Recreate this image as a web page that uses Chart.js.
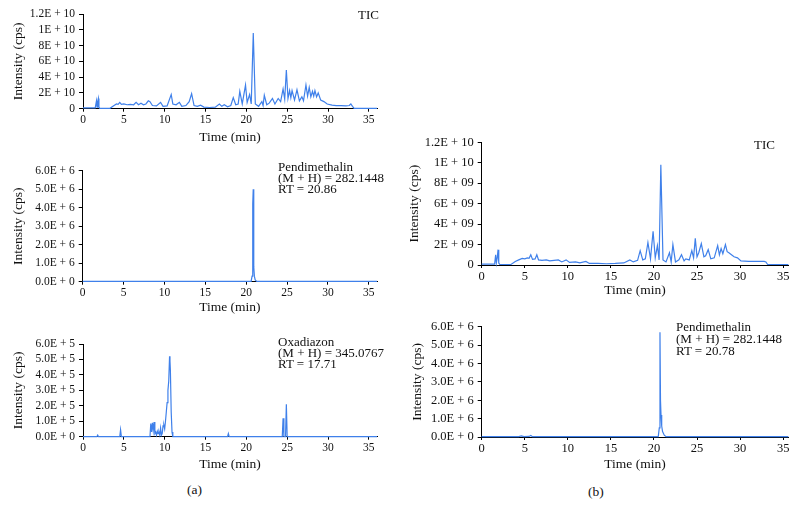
<!DOCTYPE html>
<html>
<head>
<meta charset="utf-8">
<script src="https://cdn.jsdelivr.net/npm/chart.js@4.4.1/dist/chart.umd.min.js"></script>
<style>
body{margin:0;background:#fff;}
#fig{position:relative;width:797px;height:516px;font-family:"Liberation Serif",serif;color:#111;overflow:hidden;}
#fig canvas{position:absolute;}
.note{position:absolute;font-size:13px;line-height:11px;white-space:nowrap;}
.cap{position:absolute;font-size:13.5px;}
</style>
</head>
<body>
<div id="fig">
  <canvas id="a1" width="390" height="150" style="left:0;top:0"></canvas>
  <canvas id="a2" width="390" height="168" style="left:0;top:150px"></canvas>
  <canvas id="a3" width="390" height="160" style="left:0;top:320px"></canvas>
  <canvas id="b1" width="397" height="180" style="left:400px;top:120px"></canvas>
  <canvas id="b2" width="397" height="170" style="left:400px;top:305px"></canvas>

  <div class="note" style="left:358px;top:9px">TIC</div>
  <div class="note" style="left:278px;top:161px">Pendimethalin<br>(M + H) = 282.1448<br>RT = 20.86</div>
  <div class="note" style="left:278px;top:336px">Oxadiazon<br>(M + H) = 345.0767<br>RT = 17.71</div>
  <div class="note" style="left:754px;top:139px">TIC</div>
  <div class="note" style="left:676px;top:321px;line-height:12px">Pendimethalin<br>(M + H) = 282.1448<br>RT = 20.78</div>
  <div class="cap" style="left:187px;top:482px">(a)</div>
  <div class="cap" style="left:588px;top:484px">(b)</div>
</div>
<script>
// ---------- data ----------
const xTicks = [0, 5, 10, 15, 20, 25, 30, 35];

const ticVals = [0, 2, 4, 6, 8, 10, 12];
const ticLblA = ['0', '2E + 10', '4E + 10', '6E + 10', '8E + 10', '1E + 10', '1.2E + 10'];
const ticLblB = ['0', '2E + 09', '4E + 09', '6E + 09', '8E + 09', '1E + 10', '1.2E + 10'];
const sixVals = [0, 1, 2, 3, 4, 5, 6];
const pendLbl = ['0.0E + 0', '1.0E + 6', '2.0E + 6', '3.0E + 6', '4.0E + 6', '5.0E + 6', '6.0E + 6'];
const oxaLbl = ['0.0E + 0', '1.0E + 5', '2.0E + 5', '3.0E + 5', '4.0E + 5', '5.0E + 5', '6.0E + 5'];

// (a) TIC, intensity in 1E9
const ticA_t = [0, 1.5, 1.65, 1.72, 1.8, 1.88, 1.95, 2.05, 3.3, 3.8,
  4.1, 4.3, 4.5, 4.7, 5.0, 5.4, 5.8, 6.2, 6.5, 6.8,
  7.1, 7.4, 7.7, 8.0, 8.2, 8.5, 9.0, 9.5, 9.8, 10.3,
  10.8, 11.0, 11.4, 11.8, 12.1, 12.6, 13.0, 13.3, 13.6, 14.0,
  14.4, 14.8, 15.5, 16.2, 16.7, 17.0, 17.3, 17.7, 18.1, 18.4,
  18.7, 19.0, 19.2, 19.5, 19.9, 20.1, 20.4, 20.6, 20.85, 21.1,
  21.5, 21.9, 22.05, 22.2, 22.5, 22.8, 23.2, 23.5, 23.9, 24.2,
  24.5, 24.7, 24.9, 25.1, 25.3, 25.45, 25.6, 25.9, 26.2, 26.5,
  26.8, 27.0, 27.3, 27.5, 27.7, 27.9, 28.1, 28.25, 28.4, 28.6,
  28.8, 29.1, 29.5, 29.9, 30.5, 31.0, 31.6, 32.2, 32.6, 32.8,
  33.0, 33.2, 33.5, 36];
const ticA_v = [0.1, 0.1, 1.0, 0.2, 0.9, 1.3, 0.2, 0.05, 0.05, 0.4,
  0.6, 0.55, 0.8, 0.55, 0.6, 0.5, 0.55, 0.5, 0.8, 0.5,
  0.7, 0.5, 0.6, 1.0, 0.9, 0.4, 0.35, 0.8, 0.3, 0.35,
  1.8, 0.6, 0.5, 0.8, 0.3, 0.4, 0.9, 1.9, 0.4, 0.3,
  0.45, 0.2, 0.15, 0.2, 0.6, 0.3, 0.5, 0.25, 0.4, 1.4,
  0.5, 0.6, 2.2, 0.6, 3.0, 0.8, 1.8, 0.6, 9.6, 0.6,
  0.3, 0.9, 0.4, 1.7, 0.5, 0.7, 1.3, 0.6, 1.3, 0.9,
  2.5, 1.2, 4.9, 1.3, 2.3, 1.4, 2.3, 1.1, 2.4, 1.0,
  1.5, 1.0, 3.0, 1.6, 2.7, 1.5, 2.2, 1.6, 2.3, 1.5,
  2.0, 1.1, 0.9, 0.6, 0.45, 0.4, 0.4, 0.35, 0.4, 0.6,
  0.3, 0.05, 0.05, 0.05];

// (a) Pendimethalin, 1E6
const pendA_t = [0, 20.6, 20.72, 20.8, 20.86, 20.9, 20.95, 21.0, 21.1, 21.3, 36];
const pendA_v = [0.02, 0.02, 0.3, 4.2, 5.0, 2.2, 0.8, 0.3, 0.1, 0.02, 0.02];

// (a) Oxadiazon, 1E5
const oxa_t = [0, 1.7, 1.8, 1.9, 4.5, 4.6, 4.7, 8.2, 8.3, 8.4,
  8.5, 8.6, 8.7, 8.8, 8.9, 9.0, 9.1, 9.2, 9.3, 9.4,
  9.5, 9.6, 9.7, 9.8, 9.9, 10.0, 10.1, 10.2, 10.3, 10.4,
  10.5, 10.6, 10.65, 10.7, 10.8, 10.9, 11.0, 17.7, 17.8, 17.9,
  24.4, 24.5, 24.6, 24.8, 24.9, 25.0, 36];
const oxa_v = [0, 0, 0.1, 0, 0, 0.45, 0, 0, 0.85, 0.3,
  0.9, 0.4, 0.95, 0.2, 0.3, 0.1, 0.35, 0.2, 0.3, 0.1,
  0.55, 0.1, 0.2, 0.7, 0.75, 0.5, 1.0, 1.6, 2.2, 3.0,
  3.6, 5.2, 4.9, 4.3, 1.6, 0.3, 0, 0, 0.2, 0,
  0, 1.2, 0, 0, 2.1, 0, 0];

// (b) TIC, 1E9
const ticB_t = [0, 1.5, 1.62, 1.7, 1.8, 1.9, 1.98, 2.1, 3.4, 3.9,
  4.3, 4.7, 5.0, 5.3, 5.5, 5.7, 5.9, 6.2, 6.4, 6.6,
  7.0, 7.5, 7.9, 8.4, 8.9, 9.3, 9.8, 10.2, 10.9, 11.4,
  12.1, 12.5, 13.5, 14.5, 15.5, 16.5, 17.2, 17.6, 18.1, 18.4,
  18.7, 19.0, 19.3, 19.6, 19.9, 20.15, 20.4, 20.6, 20.8, 21.05,
  21.4, 21.8, 22.0, 22.2, 22.5, 22.9, 23.2, 23.5, 23.7, 24.1,
  24.4, 24.6, 24.8, 25.0, 25.2, 25.5, 25.8, 26.0, 26.3, 26.6,
  27.0, 27.4, 27.6, 27.8, 28.0, 28.3, 28.5, 28.7, 29.0, 29.3,
  29.7, 30.1, 31.0, 32.0, 32.8, 33.0, 33.2, 35.6];
const ticB_v = [0.08, 0.08, 1.0, 0.2, 0.7, 1.5, 0.2, 0.05, 0.05, 0.35,
  0.5, 0.65, 0.6, 0.7, 0.65, 1.0, 0.55, 0.6, 1.0, 0.5,
  0.45, 0.5, 0.4, 0.45, 0.5, 0.3, 0.5, 0.25, 0.3, 0.2,
  0.35, 0.15, 0.15, 0.12, 0.15, 0.2, 0.5, 0.3, 0.45, 1.4,
  0.5, 0.6, 2.2, 0.6, 3.3, 0.7, 1.9, 0.5, 9.8, 0.5,
  0.3, 1.2, 0.3, 2.0, 0.3, 0.5, 1.0, 0.4, 0.6, 0.5,
  1.4, 0.7, 2.6, 0.8, 1.2, 2.1, 0.8, 0.9, 1.5, 0.6,
  0.7, 1.9, 1.0, 1.6, 1.1, 2.0, 1.3, 1.2, 1.0, 0.8,
  0.7, 0.4, 0.35, 0.35, 0.35, 0.3, 0.05, 0.05];

// (b) Pendimethalin, 1E6
const pendB_t = [0, 4.3, 4.6, 4.9, 5.5, 5.7, 5.9, 20.5, 20.62, 20.7, 20.76, 20.82, 20.9, 21.0, 21.2, 21.4, 35.6];
const pendB_v = [0.02, 0.02, 0.06, 0.02, 0.03, 0.08, 0.02, 0.02, 0.5, 5.7, 2.0, 1.2, 0.6, 0.3, 0.1, 0.02, 0.02];

// ---------- drawing ----------
const F = 'Liberation Serif';
const BLUE = '#3f80ea';

function pts(t, v) {
  return t.map((x, i) => ({x: x, y: v[i]}));
}

function panel(id, o) {
  new Chart(document.getElementById(id), {
    type: 'line',
    data: {datasets: [{
      data: pts(o.t, o.v),
      borderColor: BLUE,
      borderWidth: 1.2,
      pointRadius: 0,
      tension: 0,
      clip: 3
    }]},
    options: {
      responsive: false,
      animation: false,
      devicePixelRatio: 1,
      layout: {padding: {top: o.padTop, right: o.padRight, bottom: 0, left: 0}},
      plugins: {legend: {display: false}, tooltip: {enabled: false}},
      scales: {
        x: {
          type: 'linear', min: 0, max: o.xMax,
          afterBuildTicks: s => { s.ticks = xTicks.map(v => ({value: v})); },
          afterFit: s => { s.height = o.xH; },
          ticks: {font: {family: F, size: o.fs}, color: '#111', padding: 1, maxRotation: 0, autoSkip: false},
          grid: {display: true, drawOnChartArea: false, drawTicks: true, tickLength: 3, color: '#000'},
          border: {display: true, color: '#000', width: 1},
          title: {display: true, text: 'Time (min)', font: {family: F, size: 13.5}, color: '#111',
            padding: {top: 0, bottom: o.tpx}}
        },
        y: {
          type: 'linear', min: 0, max: o.yMax,
          afterBuildTicks: s => { s.ticks = o.yv.map(v => ({value: v})); },
          afterFit: s => { s.width = o.yW; },
          ticks: {font: {family: F, size: o.fs}, color: '#111', padding: 4, autoSkip: false,
            callback: (v, i) => o.yl[i]},
          grid: {display: true, drawOnChartArea: false, drawTicks: true, tickLength: 4, color: '#000'},
          border: {display: true, color: '#000', width: 1},
          title: {display: true, text: 'Intensity (cps)', font: {family: F, size: 13.5}, color: '#111',
            padding: {top: o.tpy, bottom: 0}}
        }
      }
    }
  });
}

panel('a1', {t: ticA_t, v: ticA_v, xMax: 36, yMax: 12, yv: ticVals, yl: ticLblA,
  padTop: 14, padRight: 13, yW: 83, xH: 41.3, tpx: 4.9, tpy: 10, fs: 11.5});
panel('a2', {t: pendA_t, v: pendA_v, xMax: 36, yMax: 6, yv: sixVals, yl: pendLbl,
  padTop: 20.7, padRight: 13, yW: 82.7, xH: 36.3, tpx: 2, tpy: 10, fs: 11.5});
panel('a3', {t: oxa_t, v: oxa_v, xMax: 36, yMax: 6, yv: sixVals, yl: oxaLbl,
  padTop: 24, padRight: 13, yW: 83, xH: 43.3, tpx: 7.9, tpy: 10, fs: 11.5});
panel('b1', {t: ticB_t, v: ticB_v, xMax: 35.6, yMax: 12, yv: ticVals, yl: ticLblB,
  padTop: 22.3, padRight: 8.7, yW: 81.7, xH: 35, tpx: 1.2, tpy: 6, fs: 12.5});
panel('b2', {t: pendB_t, v: pendB_v, xMax: 35.6, yMax: 6, yv: sixVals, yl: pendLbl,
  padTop: 21.7, padRight: 8.7, yW: 81.7, xH: 38, tpx: 2.9, tpy: 9.4, fs: 12.5});
</script>
</body>
</html>
